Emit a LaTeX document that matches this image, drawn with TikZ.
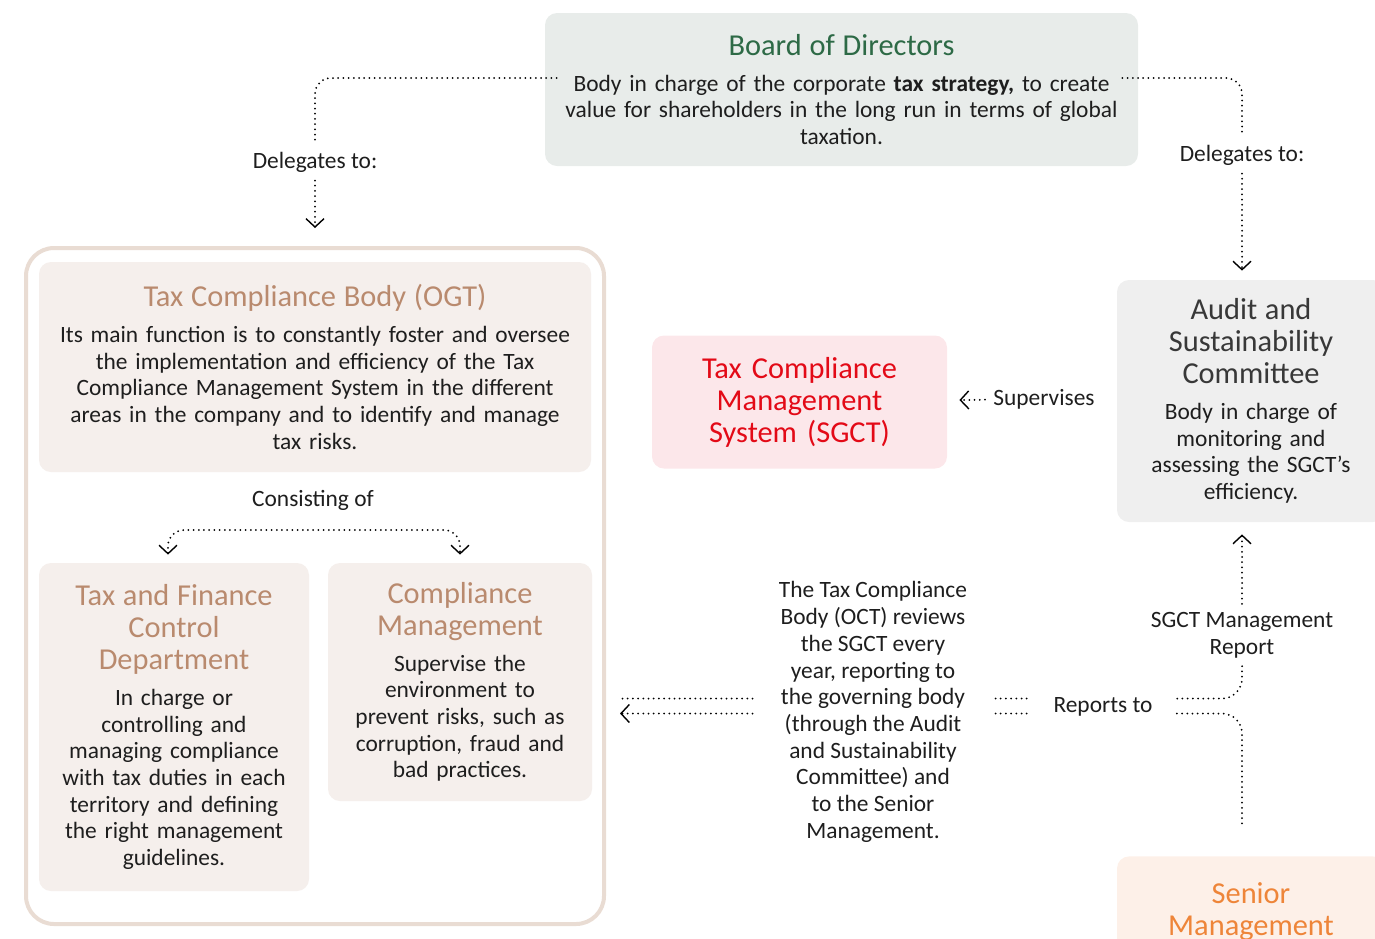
\documentclass[tikz,border=0pt]{standalone}
\usepackage{fontspec}
\setmainfont{Carlito}
\usetikzlibrary{calc,arrows.meta,positioning}

\definecolor{boardfill}{HTML}{E8ECEA}
\definecolor{boardgreen}{HTML}{2D6A46}
\definecolor{ogtfill}{HTML}{F5EFEC}
\definecolor{ogtbrown}{HTML}{B98A6E}
\definecolor{framecol}{HTML}{E9DCD3}
\definecolor{sgctfill}{HTML}{FCE7EA}
\definecolor{sgctred}{HTML}{E30A17}
\definecolor{auditfill}{HTML}{EFEFEF}
\definecolor{audittext}{HTML}{383838}
\definecolor{seniorfill}{HTML}{FDF0E8}
\definecolor{seniororange}{HTML}{EE8539}
\definecolor{bodytext}{HTML}{1E1E1E}

\newcommand{\bodyfont}{\fontsize{11.7}{13.35}\selectfont}
\newcommand{\ttlfont}{\fontsize{15.2}{16}\selectfont}

\begin{document}
\begin{tikzpicture}[x=0.5pt,y=-0.5pt,
  box/.style={rounded corners=6pt,align=center,inner sep=0pt,font=\bodyfont,text=bodytext},
  lbl/.style={font=\bodyfont,text=bodytext,inner sep=4pt,align=center},
  dotline/.style={line width=1pt,dash pattern=on 0pt off 2.6pt,line cap=round},
  chev/.tip={Straight Barb[length=4.2pt,width=9pt,line width=0.7pt]}]
  \useasboundingbox (0,0) rectangle (1375,938);
  \clip (0,0) rectangle (1375,938);

  % boxes
  \node[box,fill=boardfill,minimum width=296.5pt,minimum height=76.5pt,text width=285pt] (board) at (841.5,89.5)
    {{\color{boardgreen}\ttlfont Board of Directors\par}\vspace{4.5pt}
     Body in charge of the corporate \textbf{tax strategy,} to create\\ value for shareholders in the long run in terms of global\\ taxation.};
  \node[draw=framecol,line width=2pt,fill=white,rounded corners=14pt,minimum width=289pt,minimum height=338pt] (ogtframe) at (315,586) {};
  \node[box,fill=ogtfill,minimum width=276pt,minimum height=105pt,text width=268pt] (ogt) at (315,367)
    {{\color{ogtbrown}\ttlfont Tax Compliance Body (OGT)\par}\vspace{4.5pt}
     Its main function is to constantly foster and oversee\\ the implementation and efficiency of the Tax\\ Compliance Management System in the different\\ areas in the company and to identify and manage\\ tax risks.};
  \node[box,fill=ogtfill,minimum width=135pt,minimum height=164pt,text width=130pt] (tfc) at (174,727)
    {{\color{ogtbrown}\ttlfont Tax and Finance\\ Control\\ Department\par}\vspace{4.5pt}
     In charge or\\ controlling and\\ managing compliance\\ with tax duties in each\\ territory and defining\\ the right management\\ guidelines.};
  \node[box,fill=ogtfill,minimum width=132pt,minimum height=119pt,text width=128pt] (cm) at (460,682)
    {{\color{ogtbrown}\ttlfont Compliance\\ Management\par}\vspace{4.5pt}
     Supervise the\\ environment to\\ prevent risks, such as\\ corruption, fraud and\\ bad practices.};
  \node[box,fill=sgctfill,minimum width=147.5pt,minimum height=66.5pt,text width=140pt,text=sgctred,font=\ttlfont] (sgct) at (799.5,402)
    {Tax Compliance\\ Management\\ System (SGCT)};
  \node[box,fill=auditfill,minimum width=134pt,minimum height=121pt,text width=128pt] (audit) at (1251,401)
    {{\color{audittext}\ttlfont Audit and\\ Sustainability\\ Committee\par}\vspace{4.5pt}
     Body in charge of\\ monitoring and\\ assessing the SGCT’s\\ efficiency.};
  \node[box,fill=seniorfill,anchor=north,minimum width=134pt,minimum height=70pt,inner xsep=9pt,inner ysep=13pt,text width=116pt,
    text=seniororange,font=\ttlfont,align=center,text depth=40pt] (senior) at (1251,856) {Senior\\ Management};

  % labels
  \node[lbl] (del1) at (315,162) {Delegates to:};
  \node[lbl] (del2) at (1242,155) {Delegates to:};
  \node[lbl] (cons) at (313,500) {Consisting of};
  \node[lbl] (sup) at (1044,399) {Supervises};
  \node[lbl] (rep) at (1242,635) {SGCT Management\\ Report};
  \node[lbl] (repto) at (1103,707) {Reports to};
  \node[lbl] (review) at (873,712) {The Tax Compliance\\ Body (OCT) reviews\\ the SGCT every\\ year, reporting to\\ the governing body\\ (through the Audit\\ and Sustainability\\ Committee) and\\ to the Senior\\ Management.};

  % connectors
  \draw[dotline,rounded corners=8pt] ([shift={(12,-11.5)}]board.west) -| (del1);
  \draw[dotline,-chev,shorten >=9pt] (del1) -- (ogtframe.north);
  \draw[dotline,rounded corners=8pt] ([shift={(-16,-11.5)}]board.east) -| (del2);
  \draw[dotline,-chev,shorten >=4.5pt] (del2) -- (del2 |- audit.north);
  \coordinate (consbar) at (315,530);
  \draw[dotline,chev-chev,rounded corners=8pt] ([shift={(-6,-8)}]tfc.north) |- (consbar) -| ([shift={(0,-8)}]cm.north);
  \draw[dotline,-chev,shorten >=6pt] (sup) -- (sgct);
  \draw[dotline,-chev,shorten >=6pt] (rep) -- (rep |- audit.south);
  \coordinate (rtU) at ([shift={(16,-8.5)}]repto.east);
  \coordinate (rtL) at ([shift={(16,6.5)}]repto.east);
  \draw[dotline,rounded corners=10pt] (rep) |- (rtU);
  \draw[dotline,rounded corners=10pt,shorten >=15.5pt] (rtL) -| (rep |- senior.north);
  \draw[dotline,shorten <=10pt,shorten >=8pt] (review.east |- rtU) -- (repto.west |- rtU);
  \draw[dotline,shorten <=10pt,shorten >=8pt] (review.east |- rtL) -- (repto.west |- rtL);
  \draw[dotline,shorten <=9pt,shorten >=7pt] (review.west |- rtU) -- (ogtframe.east |- rtU);
  \draw[dotline,-chev,shorten <=9pt,shorten >=7pt] (review.west |- rtL) -- (ogtframe.east |- rtL);
\end{tikzpicture}
\end{document}
